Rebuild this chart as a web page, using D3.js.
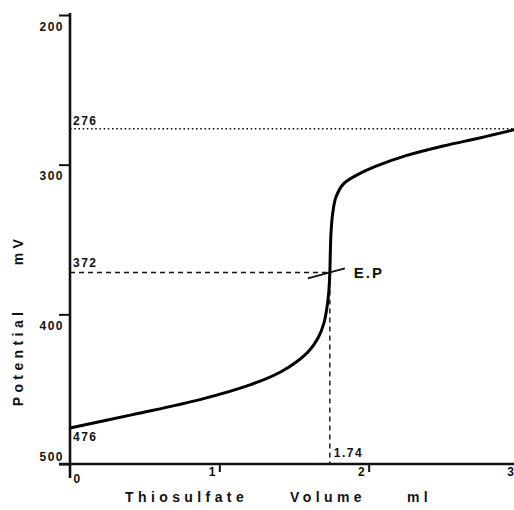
<!DOCTYPE html>
<html lang="en">
<head>
  <meta charset="UTF-8">
  <title>Thiosulfate titration</title>
  <script src="https://d3js.org/d3.v7.min.js"></script>
  <style>
    body { margin: 0; background: white; }
    svg { display: block; font-family: Arial, "Liberation Sans", Helvetica, sans-serif; }
    .lbl { font-size: 12px; font-weight: bold; letter-spacing: 1.5px; fill: #111; }
    .title { font-size: 14px; font-weight: bold; letter-spacing: 4.4px; fill: #111; }
    .axis path { display: none; }
    .axis line { stroke: #111; stroke-width: 2px; }
  </style>
</head>
<body>
<svg id="svg" width="514" height="510"></svg>
<script>
// titration curve (volume in ml, potential in mV)
const volume    = [0, 0.42, 0.87, 1.21, 1.41, 1.52, 1.60, 1.66, 1.70, 1.72, 1.733, 1.74, 1.743, 1.748, 1.76, 1.78, 1.83, 1.92, 2.05, 2.25, 2.5, 2.75, 3.0];
const potential = [476, 467, 457, 447, 438.5, 431.5, 424.5, 416, 406, 396, 385, 372, 360, 345, 332, 322, 313, 307, 301, 294, 287.5, 282, 276];

const yTicks = [200, 300, 400, 500];
const xTicks = [0, 1, 2, 3];
const finalPot = 276;   // dotted line
const epVol = 1.74, epPot = 372;
const startPot = 476;

const svg = d3.select("#svg");
const x = d3.scaleLinear().domain([0, 3]).range([70, 518]);
const y = d3.scaleLinear().domain([200, 500]).range([15, 464]);

// axes ticks
const yAxis = svg.append("g").attr("class", "axis")
  .attr("transform", "translate(70,0)")
  .call(d3.axisLeft(y).tickValues(yTicks).tickSize(11).tickSizeOuter(0));
yAxis.selectAll("text").attr("class", "lbl").attr("x", -6)
  .attr("dy", null)
  .attr("y", d => d == 500 ? -4 : 15)
  .style("font-size", null).style("font-family", null);

const xAxis = svg.append("g").attr("class", "axis")
  .attr("transform", "translate(0,464)")
  .call(d3.axisBottom(x).tickValues(xTicks).tickFormat(d3.format("d")).tickSize(8).tickSizeOuter(0));
xAxis.selectAll("line").filter(d => d == 0).remove();
xAxis.selectAll("text").attr("class", "lbl")
  .attr("dy", null)
  .attr("text-anchor", d => d == 0 ? "start" : "end")
  .attr("x", d => d == 0 ? 3 : -3)
  .attr("y", d => d == 0 ? 19 : 12)
  .style("font-size", null).style("font-family", null);

// axis lines
svg.append("line").attr("x1", 70).attr("x2", 70).attr("y1", y(200) - 2).attr("y2", y(500) + 14)
  .attr("stroke", "#111").attr("stroke-width", 2.6);
svg.append("line").attr("x1", 59).attr("x2", 514).attr("y1", y(500)).attr("y2", y(500))
  .attr("stroke", "#111").attr("stroke-width", 2.4);

// guide lines
svg.append("line").attr("x1", x(0)).attr("x2", 514).attr("y1", y(finalPot)).attr("y2", y(finalPot))
  .attr("stroke", "#111").attr("stroke-width", 1.6).attr("stroke-dasharray", "1.6,2.6");
svg.append("line").attr("x1", x(0)).attr("x2", x(epVol)).attr("y1", y(epPot)).attr("y2", y(epPot))
  .attr("stroke", "#111").attr("stroke-width", 1.4).attr("stroke-dasharray", "5,4");
svg.append("line").attr("x1", x(epVol)).attr("x2", x(epVol)).attr("y1", y(epPot)).attr("y2", y(500))
  .attr("stroke", "#111").attr("stroke-width", 1.4).attr("stroke-dasharray", "5,4");

// curve
const pts = volume.map((v, i) => [v, potential[i]]);
svg.append("path").datum(pts)
  .attr("d", d3.line().x(d => x(d[0])).y(d => y(d[1])).curve(d3.curveCatmullRom.alpha(0.5)))
  .attr("fill", "none").attr("stroke", "#000").attr("stroke-width", 3);

// end point marker
const ex = x(epVol), ey = y(epPot);
svg.append("line").attr("x1", ex - 22).attr("y1", ey + 6).attr("x2", ex + 15).attr("y2", ey - 4)
  .attr("stroke", "#111").attr("stroke-width", 1.8);
svg.append("text").attr("class", "title").attr("x", ex + 24).attr("y", ey + 6)
  .style("letter-spacing", "2px").style("font-size", "15px").text("E.P");

// value annotations
svg.append("text").attr("class", "lbl").attr("x", 73).attr("y", y(finalPot) - 4).text(finalPot);
svg.append("text").attr("class", "lbl").attr("x", 73).attr("y", y(epPot) - 5).text(epPot);
svg.append("text").attr("class", "lbl").attr("x", 73).attr("y", y(startPot) + 13).text(startPot);
svg.append("text").attr("class", "lbl").attr("x", ex + 4).attr("y", y(500) - 7).text(epVol.toFixed(2));

// axis titles
svg.append("text").attr("class", "title").attr("x", 125).attr("y", 502).text("Thiosulfate");
svg.append("text").attr("class", "title").attr("x", 290).attr("y", 502).text("Volume");
svg.append("text").attr("class", "title").attr("x", 407).attr("y", 502).text("ml");
svg.append("text").attr("class", "title").attr("text-anchor", "middle")
  .attr("transform", "translate(23,357) rotate(-90)").text("Potential");
svg.append("text").attr("class", "title").attr("text-anchor", "middle")
  .attr("transform", "translate(23,250) rotate(-90)").text("mV");
</script>
</body>
</html>
